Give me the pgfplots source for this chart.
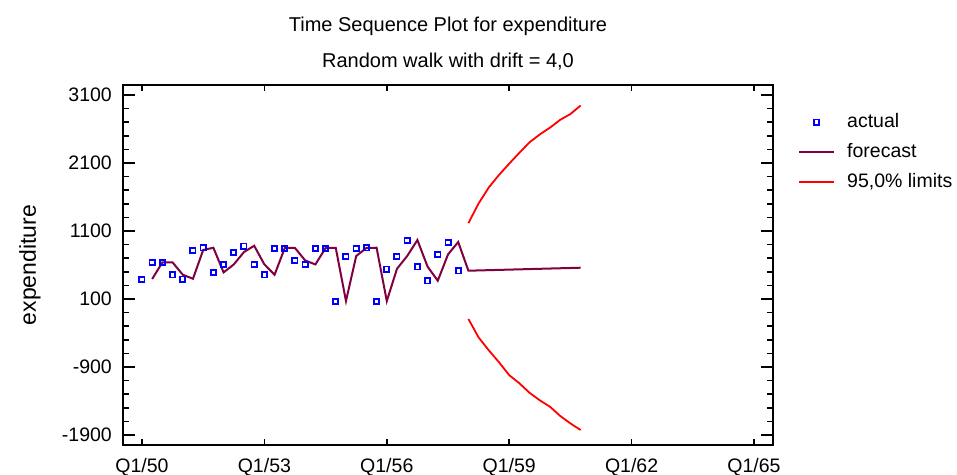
\documentclass[border=0pt]{standalone}
\usepackage{pgfplots}
\pgfplotsset{compat=1.18}
\usepackage{fontspec}
\setmainfont{Liberation Sans}
\definecolor{fc}{RGB}{128,0,64}
\definecolor{lim}{RGB}{255,0,0}
\definecolor{act}{RGB}{0,0,255}
\pgfplotsset{
  markleg/.style={legend image code/.code={\draw[##1] plot coordinates {(17.5bp,0bp)};}},
  lineleg/.style={legend image code/.code={\draw[##1] (0bp,0bp) -- (35bp,0bp);}},
}
\begin{document}
\begin{tikzpicture}
\path[use as bounding box] (-123bp,-30bp) rectangle (834bp,445bp);
\begin{axis}[
  at={(0,0)}, anchor=south west,
  scale only axis, width=650bp, height=360bp,
  xmin=-1.86, xmax=61.86, ymin=-2047, ymax=3247,
  xtick={0,12,24,36,48,60},
  minor xtick={0,12,24,36,48,60},
  xticklabels={Q1/50,Q1/53,Q1/56,Q1/59,Q1/62,Q1/65},
  ytick={-1900,-900,100,1100,2100,3100},
  yticklabels={-1900,-900,100,1100,2100,3100},
  minor y tick num=4,
  tick align=inside,
  major tick length=12bp,
  minor tick length=6bp,
  axis line style={line width=2bp},
  every tick/.style={black, line width=1.7bp},
  major x tick style={draw=none},
  tick label style={font=\fontsize{19.5bp}{23bp}\selectfont},
  xticklabel style={anchor=base, yshift=-27.7bp},
  yticklabel style={anchor=east, inner sep=0pt, xshift=-11bp},
  legend style={at={(1,1)}, anchor=north west, xshift=25bp, yshift=-28bp,
    draw=none, fill=none, inner sep=0pt, row sep=12bp, column sep=12bp,
    font=\fontsize{19.5bp}{23bp}\selectfont,
    nodes={inner sep=0pt, text height=14bp, text depth=4bp}},
  legend cell align=left,
]
\addplot[only marks, mark=square, mark size=2.6bp, color=act,
  mark options={line width=1.8bp, draw=act}, markleg]
  coordinates {
  (0,390) (1,634) (2,634) (3,453) (4,394) (5,816) (6,850) (7,487)
  (8,604) (9,787) (10,879) (11,604) (12,453) (13,846) (14,846) (15,663)
  (16,604) (17,846) (18,846) (19,66) (20,728) (21,846) (22,850) (23,66)
  (24,541) (25,728) (26,963) (27,571) (28,365) (29,751) (30,934) (31,512)
  };
\addlegendentry{actual}
\addplot[color=fc, line width=2bp, mark=none, lineleg] coordinates {
  (1,394) (2,638) (3,638) (4,457) (5,398) (6,820) (7,854) (8,491)
  (9,608) (10,791) (11,883) (12,608) (13,457) (14,850) (15,850) (16,667)
  (17,608) (18,850) (19,850) (20,70) (21,732) (22,850) (23,854) (24,70)
  (25,545) (26,732) (27,967) (28,575) (29,369) (30,755) (31,938)
  (32,516) (33,520) (34,524) (35,528) (36,532) (37,536) (38,540) (39,544)
  (40,548) (41,552) (42,556) (43,560)
  };
\addlegendentry{forecast}
\addplot[color=lim, line width=1.8bp, mark=none, lineleg] coordinates {
  (32,1215) (33,1505) (34,1740) (35,1925) (36,2090) (37,2250) (38,2405)
  (39,2520) (40,2620) (41,2735) (42,2820) (43,2945)
  };
\addlegendentry{95,0\% limits}
\addplot[color=lim, line width=1.8bp, mark=none, forget plot] coordinates {
  (32,-194) (33,-465) (34,-655) (35,-830) (36,-1020) (37,-1140) (38,-1280)
  (39,-1390) (40,-1485) (41,-1620) (42,-1730) (43,-1826)
  };
\end{axis}
\node[anchor=base, font=\fontsize{20bp}{24bp}\selectfont] at (325bp,413bp) {Time Sequence Plot for expenditure};
\node[anchor=base, font=\fontsize{20bp}{24bp}\selectfont] at (325bp,377bp) {Random walk with drift = 4,0};
\node[rotate=90, font=\fontsize{23bp}{27bp}\selectfont] at (-93bp,180bp) {expenditure};
\end{tikzpicture}
\end{document}
